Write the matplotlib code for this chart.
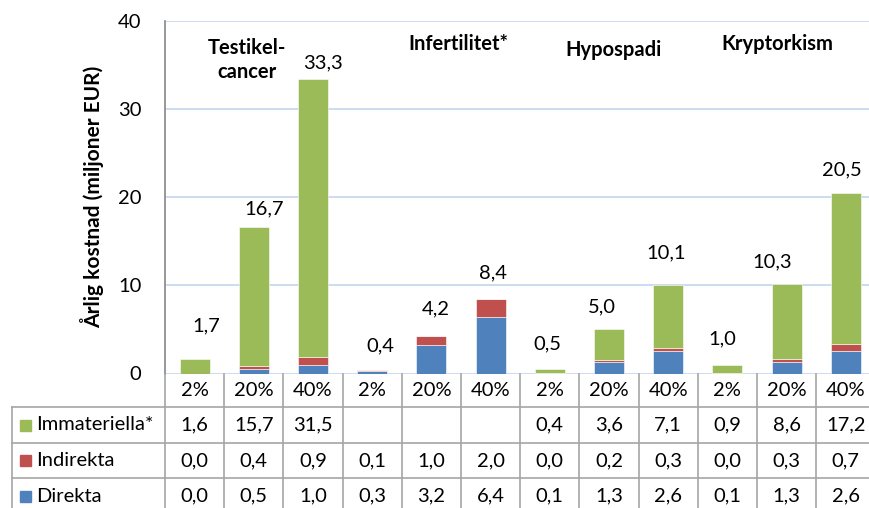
import matplotlib.pyplot as plt
import matplotlib.transforms as mtransforms
import numpy as np

plt.rcParams['font.family'] = ['Lato', 'DejaVu Sans']

# data
percent = ["2%", "20%", "40%"] * 4
groups = ["Testikel-\ncancer", "Infertilitet*", "Hypospadi", "Kryptorkism"]
series = ["Immateriella*", "Indirekta", "Direkta"]
immateriella = [1.6, 15.7, 31.5, None, None, None, 0.4, 3.6, 7.1, 0.9, 8.6, 17.2]
indirekta = [0.0, 0.4, 0.9, 0.1, 1.0, 2.0, 0.0, 0.2, 0.3, 0.0, 0.3, 0.7]
direkta = [0.0, 0.5, 1.0, 0.3, 3.2, 6.4, 0.1, 1.3, 2.6, 0.1, 1.3, 2.6]
totals = [1.7, 16.7, 33.3, 0.4, 4.2, 8.4, 0.5, 5.0, 10.1, 1.0, 10.3, 20.5]

# label placement (as moved by hand in the original)
label_dx = [12, 10, 10, 8, 4, 2, -2, -7, -2, -5, -14, -4]
label_y = [5.4, 18.7, 35.2, 3.1, 7.3, 11.4, 3.4, 7.6, 13.7, 3.9, 12.7, 23.1]
group_pos = [(0.88, 35.6), (4.45, 37.4), (7.07, 36.7), (9.85, 37.4)]

green = "#9BBB59"
red = "#C0504D"
blue = "#4F81BD"
W, H = 870, 508
fs = 14.5

fig = plt.figure(figsize=(8.7, 5.08), dpi=100)
ax = fig.add_axes([165 / W, (H - 373.5) / H, 12 * 59.2 / W, (373.5 - 21) / H])

x = np.arange(12)
imm = np.array([v if v is not None else 0 for v in immateriella])
ind = np.array(indirekta)
dirk = np.array(direkta)
ax.bar(x, dirk, 0.51, color=blue, edgecolor="white", linewidth=0.4, zorder=3)
ax.bar(x, ind, 0.51, bottom=dirk, color=red, edgecolor="white", linewidth=0.4, zorder=3)
ax.bar(x, imm, 0.51, bottom=dirk + ind, color=green, edgecolor="white", linewidth=0.4, zorder=3)

ax.set_xlim(-0.5, 11.5)
ax.set_ylim(0, 40)
ax.set_yticks([0, 10, 20, 30, 40])
ax.tick_params(axis="y", length=0, pad=17, labelsize=fs)
ax.set_xticks([])
ax.grid(axis="y", color="#C6D6EE", linewidth=1.2, zorder=0)
for s in ["top", "right", "bottom"]:
    ax.spines[s].set_visible(False)
ax.spines["left"].set_color("#868686")
ax.spines["left"].set_linewidth(1.2)
ax.set_ylabel("Årlig kostnad (miljoner EUR)", fontsize=15, fontweight="bold", labelpad=10)

for i, t in enumerate(totals):
    ax.annotate(f"{t:.1f}".replace(".", ","), (x[i], label_y[i]), xytext=(label_dx[i] * 0.72, 0),
                textcoords="offset points", ha="center", va="center", fontsize=fs)

for g, (gx, gy) in zip(groups, group_pos):
    ax.text(gx, gy, g, ha="center", va="center", fontsize=14.5, fontweight="bold", linespacing=1.25)

# data table below the chart
tr = mtransforms.blended_transform_factory(ax.transData, fig.transFigure)
def fy(p):
    return (H - p) / H

lc = "#A6A6A6"
lines_y = [406.7, 443.3, 478.3, 513.5]
for ly in lines_y:
    fig.add_artist(plt.Line2D([12 / W, 1.01], [fy(ly)] * 2, color=lc, lw=1.2))
fig.add_artist(plt.Line2D([12 / W] * 2, [fy(406.7), fy(513.5)], color=lc, lw=1.2))
for i in range(12):
    xb = i + 0.5
    l = plt.Line2D([xb, xb], [fy(373.5), fy(513.5)], color=lc, lw=1.2, transform=tr)
    fig.add_artist(l)
fig.add_artist(plt.Line2D([165 / W] * 2, [fy(373.5), fy(513.5)], color=lc, lw=1.2))

for i, p in enumerate(percent):
    fig.text(x[i], fy(391), p, transform=tr, ha="center", va="center", fontsize=fs)

rows = [immateriella, indirekta, direkta]
colors = [green, red, blue]
row_y = [425, 460.5, 496]
for r, (vals, name, c, ry) in enumerate(zip(rows, series, colors, row_y)):
    fig.add_artist(plt.Rectangle((20 / W, fy(ry + 5.5)), 11 / W, 11 / H, color=c))
    fig.text(36 / W, fy(ry), name, ha="left", va="center", fontsize=fs)
    for i, v in enumerate(vals):
        if v is None:
            continue
        fig.text(x[i], fy(ry), f"{v:.1f}".replace(".", ","), transform=tr,
                 ha="center", va="center", fontsize=fs)

fig.savefig("out.png", dpi=100)
